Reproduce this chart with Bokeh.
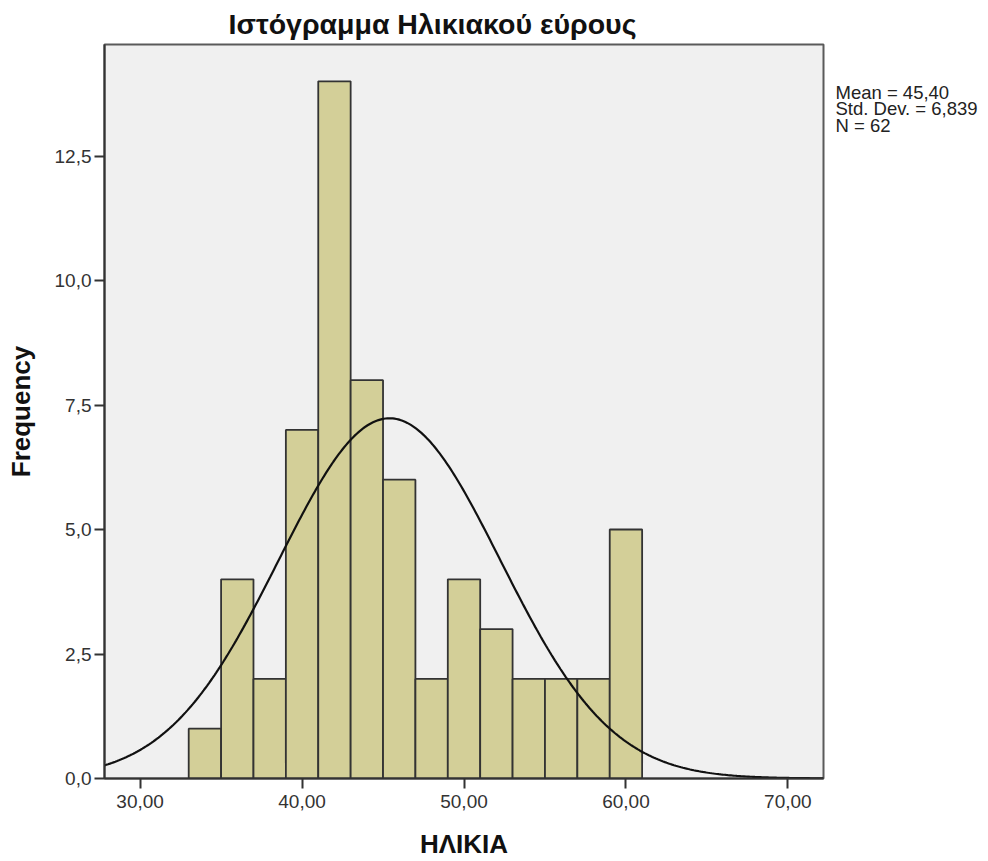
import numpy as np
from bokeh.plotting import figure
from bokeh.models import Range1d, FixedTicker, LinearAxis
from bokeh.embed import file_html
from bokeh.resources import INLINE

# ---- data ----
bin_left = [33, 35, 37, 39, 41, 43, 45, 47, 49, 51, 53, 55, 57, 59]
bin_width = 2
counts = [1, 4, 2, 7, 14, 8, 6, 2, 4, 3, 2, 2, 2, 5]

mean_age = 45.40
sd_age = 6.839
n_obs = 62

x_ticks = [30, 40, 50, 60, 70]
x_tick_labels = ["30,00", "40,00", "50,00", "60,00", "70,00"]
y_ticks = [0, 2.5, 5.0, 7.5, 10.0, 12.5]
y_tick_labels = ["0,0", "2,5", "5,0", "7,5", "10,0", "12,5"]

stats_lines = ["Mean = 45,40", "Std. Dev. = 6,839", "N = 62"]
title_text = "Ιστόγραμμα Ηλικιακού εύρους"
x_label = "ΗΛΙΚΙΑ"
y_label = "Frequency"

FONT = "Liberation Sans"
FRAME_H = 736

p = figure(width=988, height=861, output_backend="svg", toolbar_location=None,
           x_range=Range1d(27.8, 72.2), y_range=Range1d(0, 14.74),
           min_border_left=104, min_border_right=165, min_border_top=43,
           min_border_bottom=82)

p.background_fill_color = "#f0f0f0"
p.border_fill_color = "white"
p.outline_line_color = "#5a5a5a"
p.outline_line_width = 2
p.xgrid.visible = False
p.ygrid.visible = False

# title
p.title.text = title_text
p.title.text_font = FONT
p.title.text_font_size = "28.5px"
p.title.text_font_style = "bold"
p.title.text_color = "#111111"
p.title.align = "left"
p.title.offset = 124

# bars
lefts = np.array(bin_left, dtype=float)
p.quad(left=lefts, right=lefts + bin_width, bottom=0, top=counts,
       fill_color="#d3cf98", line_color="#333333", line_width=1.8)

# normal curve from the displayed statistics
xs = np.linspace(27.8, 72.2, 400)
ys = n_obs * bin_width * np.exp(-0.5 * ((xs - mean_age) / sd_age) ** 2) / (sd_age * np.sqrt(2 * np.pi))
p.line(xs, ys, line_color="#111111", line_width=2.2)

# axes
for ax in (p.xaxis, p.yaxis):
    ax.axis_line_color = "#333333"
    ax.axis_line_width = 2
    ax.major_tick_line_color = "#333333"
    ax.major_tick_line_width = 2
    ax.major_tick_out = 10
    ax.major_tick_in = 0
    ax.minor_tick_line_color = None
    ax.major_label_text_font = FONT
    ax.major_label_text_font_size = "19px"
    ax.major_label_text_color = "#333333"
    ax.axis_label_text_font = FONT
    ax.axis_label_text_font_style = "bold"
    ax.axis_label_text_font_size = "26px"
    ax.axis_label_text_color = "#111111"

p.xaxis.ticker = FixedTicker(ticks=x_ticks)
p.xaxis.major_label_overrides = dict(zip(x_ticks, x_tick_labels))
p.yaxis.ticker = FixedTicker(ticks=y_ticks)
p.yaxis.major_label_overrides = dict(zip(y_ticks, y_tick_labels))
p.xaxis.axis_label = x_label
p.yaxis.axis_label = y_label
p.xaxis.major_label_standoff = 6
p.yaxis.major_label_standoff = 3
p.xaxis.axis_label_standoff = 18
p.yaxis.axis_label_standoff = 16

# statistics text: an unlined right-hand axis in pixel units measured from the frame top
p.extra_y_ranges = {"stats": Range1d(FRAME_H, 0)}
stat_pos = [48.0, 64.5, 81.5]
stats_axis = LinearAxis(y_range_name="stats", ticker=FixedTicker(ticks=stat_pos),
                        major_label_overrides=dict(zip(stat_pos, stats_lines)),
                        axis_line_color=None, major_tick_line_color=None,
                        minor_tick_line_color=None, major_tick_out=0, major_tick_in=0,
                        major_label_standoff=12, major_label_text_font=FONT,
                        major_label_text_font_size="18.5px",
                        major_label_text_color="#222222")
p.add_layout(stats_axis, "right")

open("out.html", "w").write(file_html(p, INLINE))
